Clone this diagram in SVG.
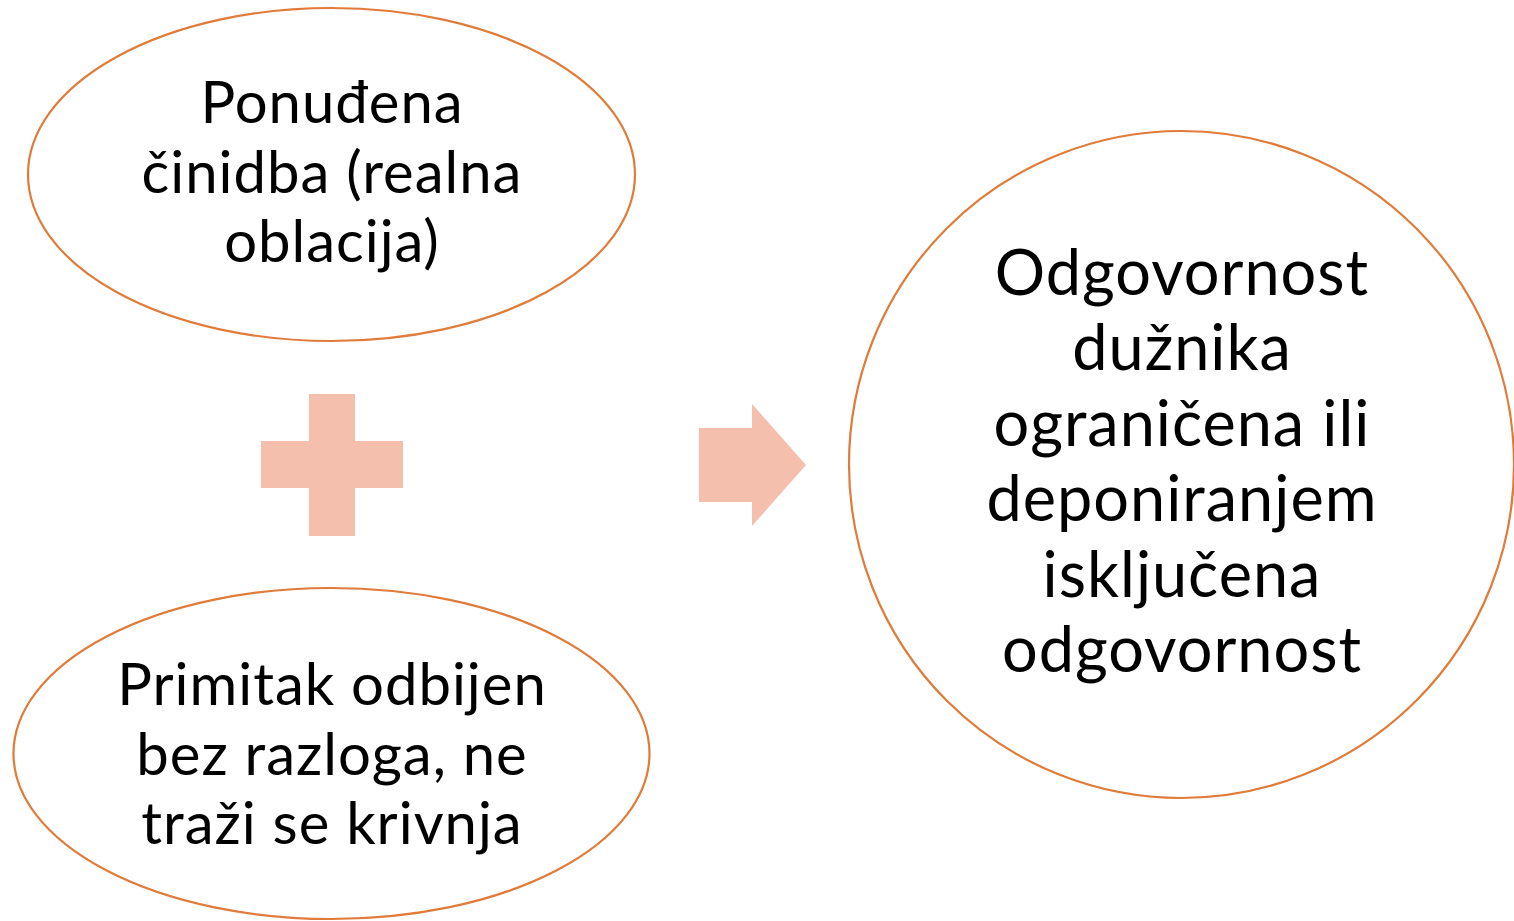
<svg xmlns="http://www.w3.org/2000/svg" width="1514" height="921" viewBox="0 0 1514 921">
<style>
.node{fill:#FFFFFF;stroke:#E07B39;stroke-width:2.2}
.t{font-family:"Lato","Liberation Sans",sans-serif;fill:#000000;text-anchor:middle;letter-spacing:1px}
.s{font-size:58px}
.b{font-size:63px}
.sym{fill:#F4BFAC}
</style>
<rect width="1514" height="921" fill="#FFFFFF"/>
<g id="node-ponudjena">
<ellipse class="node" cx="331.5" cy="174.5" rx="303.5" ry="166.5"/>
<text class="t s" x="332" y="123">Ponuđena</text>
<text class="t s" x="332" y="193">činidba (realna</text>
<text class="t s" x="332" y="262">oblacija)</text>
</g>
<g id="node-primitak">
<ellipse class="node" cx="331.5" cy="753.5" rx="318" ry="165.5"/>
<text class="t s" x="332" y="705">Primitak odbijen</text>
<text class="t s" x="332" y="775">bez razloga, ne</text>
<text class="t s" x="332" y="844">traži se krivnja</text>
</g>
<g id="node-odgovornost">
<ellipse class="node" cx="1181.5" cy="464.5" rx="332.5" ry="333.5"/>
<text class="t b" x="1182" y="295">Odgovornost</text>
<text class="t b" x="1182" y="370">dužnika</text>
<text class="t b" x="1182" y="446">ograničena ili</text>
<text class="t b" x="1182" y="521">deponiranjem</text>
<text class="t b" x="1182" y="597">isključena</text>
<text class="t b" x="1182" y="672">odgovornost</text>
</g>
<g id="connectors">
<path class="sym" d="M309,394 H355 V441 H403 V488 H355 V536 H309 V488 H261 V441 H309 Z"/>
<path class="sym" d="M699,428 H752 V404 L806,465 L752,526 V502 H699 Z"/>
</g>
</svg>
